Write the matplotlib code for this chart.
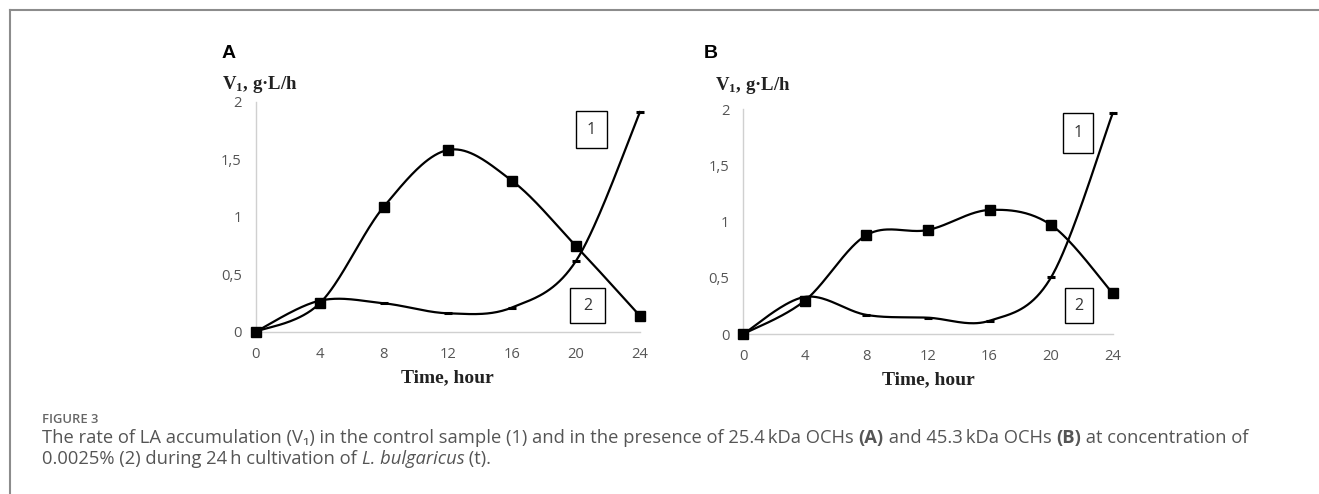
import numpy as np
import matplotlib
matplotlib.use("Agg")
import matplotlib.pyplot as plt
from matplotlib.lines import Line2D

# ---------------- data ----------------
hours = [0, 4, 8, 12, 16, 20, 24]
x_ticks = [0, 4, 8, 12, 16, 20, 24]
y_ticks = [0, 0.5, 1, 1.5, 2]
y_tick_labels = ["0", "0,5", "1", "1,5", "2"]

# Panel A
a_control = [0, 0.27, 0.247, 0.16, 0.21, 0.615, 1.91]   # curve 1
a_och = [0, 0.247, 1.087, 1.58, 1.313, 0.745, 0.137]    # curve 2
# Panel B
b_control = [0, 0.33, 0.17, 0.145, 0.118, 0.505, 1.965]
b_och = [0, 0.297, 0.88, 0.926, 1.104, 0.97, 0.362]

panel_letters = ["A", "B"]

W, H = 1319, 494
fig = plt.figure(figsize=(W / 100, H / 100), dpi=100)

plt.rcParams['mathtext.fontset'] = 'custom'
plt.rcParams['mathtext.rm'] = 'Liberation Serif:bold'
plt.rcParams['mathtext.it'] = 'Liberation Serif:bold'
plt.rcParams['mathtext.bf'] = 'Liberation Serif:bold'


def smooth(xs, ys, n=40):
    """Catmull-Rom (Excel-like) smoothing through the data points."""
    P = np.column_stack([xs, ys]).astype(float)
    out = [P[0]]
    m = len(P)
    t = np.linspace(0, 1, n)[1:]
    for i in range(m - 1):
        p0 = P[i - 1] if i > 0 else P[i]
        p1 = P[i]
        p2 = P[i + 1]
        p3 = P[i + 2] if i + 2 < m else P[i + 1]
        c1 = p1 + (p2 - p0) / 6.0
        c2 = p2 - (p3 - p1) / 6.0
        for tt in t:
            b = ((1 - tt) ** 3) * p1 + 3 * ((1 - tt) ** 2) * tt * c1 \
                + 3 * (1 - tt) * tt ** 2 * c2 + tt ** 3 * p2
            out.append(b)
    out = np.array(out)
    return out[:, 0], out[:, 1]


def px_rect(x0, y0, x1, y1):
    return [x0 / W, 1 - y1 / H, (x1 - x0) / W, (y1 - y0) / H]


panels = [
    dict(rect=px_rect(255.7, 101.7, 640, 331.7), c=a_control, o=a_och,
         letter_xy=(222, 54), ylab_xy=(222, 84),
         box1=(576, 111, 607, 148), box2=(570, 288, 605, 323)),
    dict(rect=px_rect(743.3, 109.3, 1112.7, 334), c=b_control, o=b_och,
         letter_xy=(704, 54), ylab_xy=(715, 86),
         box1=(1063, 113, 1093, 153), box2=(1065, 288, 1093, 323)),
]

tick_font = ['Open Sans', 'DejaVu Sans']
for k, p in enumerate(panels):
    ax = fig.add_axes(p['rect'])
    ax.set_xlim(0, 24)
    ax.set_ylim(0, 2)
    for s in ['top', 'right']:
        ax.spines[s].set_visible(False)
    for s in ['left', 'bottom']:
        ax.spines[s].set_color('#d0d0d0')
        ax.spines[s].set_linewidth(1.0)
    ax.set_xticks(x_ticks)
    ax.set_xticklabels([str(v) for v in x_ticks])
    ax.set_yticks(y_ticks)
    ax.set_yticklabels(y_tick_labels)
    ax.tick_params(length=0, labelsize=10.6, labelcolor='#555555')
    ax.tick_params(axis='x', pad=11)
    ax.tick_params(axis='y', pad=10)
    for lab in ax.get_xticklabels() + ax.get_yticklabels():
        lab.set_fontfamily(tick_font)
    ax.patch.set_visible(False)

    # control (1)
    sx, sy = smooth(hours, p['c'])
    ax.plot(sx, sy, color='black', lw=1.6, clip_on=False, zorder=3)
    ax.plot(hours[1:], p['c'][1:], ls='none', marker='_', ms=6, mew=2.2,
            color='black', clip_on=False, zorder=4)
    # OCH (2)
    sx, sy = smooth(hours, p['o'])
    ax.plot(sx, sy, color='black', lw=1.6, clip_on=False, zorder=3)
    ax.plot(hours, p['o'], ls='none', marker='s', ms=7, color='black',
            clip_on=False, zorder=5)

    ax.set_xlabel("Time, hour", family='Liberation Serif', weight='bold',
                  fontsize=14, color='#222222', labelpad=5)

    # panel letter
    lx, ly = p['letter_xy']
    fig.text(lx / W, 1 - ly / H, panel_letters[k], family='Liberation Sans',
             weight='bold', fontsize=14, va='center', ha='left')
    # y label
    yx, yy = p['ylab_xy']
    fig.text(yx / W, 1 - yy / H, r"V$_{1}$, g·L/h", family='Liberation Serif',
             weight='bold', fontsize=13.5, va='center', ha='left', color='#222222')

    # boxes with curve numbers
    for box, num in [(p['box1'], "1"), (p['box2'], "2")]:
        x0, y0, x1, y1 = box
        fig.add_artist(plt.Rectangle((x0 / W, 1 - y1 / H), (x1 - x0) / W,
                                     (y1 - y0) / H, transform=fig.transFigure,
                                     fill=False, ec='black', lw=1.0))
        fig.text((x0 + x1) / 2 / W, 1 - (y0 + y1) / 2 / H, num,
                 family=tick_font, fontsize=11.5, ha='center', va='center',
                 color='#333333')

# frame
fig.add_artist(Line2D([10 / W, 1], [1 - 10 / H, 1 - 10 / H],
                      transform=fig.transFigure, color='#8c8c8c', lw=1.5))
fig.add_artist(Line2D([10 / W, 10 / W], [0, 1 - 10 / H],
                      transform=fig.transFigure, color='#8c8c8c', lw=1.5))

# caption
cap_font = ['Open Sans', 'DejaVu Sans']
cap_col = '#555555'
fig.text(42 / W, 1 - 423 / H, "FIGURE 3", family=cap_font, weight='semibold',
         fontsize=9.4, color='#666666', va='baseline', ha='left')

renderer = fig.canvas.get_renderer()


def write_line(pieces, x_px, y_px, size=13.2):
    x = x_px
    for txt, style in pieces:
        kw = dict(family=cap_font, fontsize=size, color=cap_col,
                  va='baseline', ha='left')
        if style == 'b':
            kw['weight'] = 'bold'
        if style == 'i':
            kw['style'] = 'italic'
        t = fig.text(x / W, 1 - y_px / H, txt, **kw)
        bb = t.get_window_extent(renderer)
        x += bb.width


write_line([("The rate of LA accumulation (V\u2081) in the control sample (1) and in the presence of 25.4\u2009kDa OCHs ", ''),
            ("(A)", 'b'), (" and 45.3\u2009kDa OCHs ", ''), ("(B)", 'b'),
            (" at concentration of", '')], 42, 443)
write_line([("0.0025% (2) during 24\u2009h cultivation of ", ''), ("L. bulgaricus", 'i'),
            (" (t).", '')], 42, 464)

fig.savefig("out.png", dpi=100)
